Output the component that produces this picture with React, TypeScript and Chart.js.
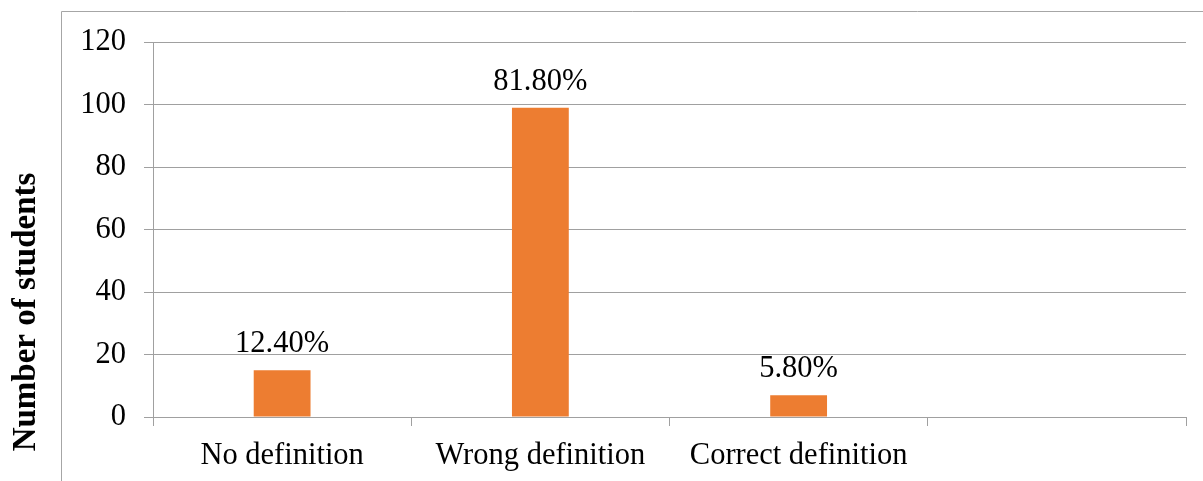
import React, { useEffect, useRef } from "react";
import { Chart, registerables } from "chart.js";

Chart.register(...registerables);

// Response categories (the last slot is an empty category, as in the worksheet)
const categories: string[] = ["No definition", "Wrong definition", "Correct definition", ""];
// Number of students giving each kind of answer
const studentCounts: (number | null)[] = [15, 99, 7, null];
// Share of all students, in percent, printed above each bar
const sharePercent: (number | null)[] = [12.4, 81.8, 5.8, null];
// Value axis ticks
const yMin = 0;
const yMax = 120;
const yStep = 20;
const yAxisTitle = "Number of students";

const SERIF = "'Liberation Serif', 'Times New Roman', serif";
const GRID = "#a0a0a0";
const BAR = "#ed7d31";

// Outer frame of the chart object (left and top edges only are visible)
const framePlugin = {
  id: "outerFrame",
  beforeDraw(chart: Chart) {
    const { ctx, width, height } = chart;
    ctx.save();
    ctx.strokeStyle = "#a6a6a6";
    ctx.lineWidth = 1;
    ctx.beginPath();
    ctx.moveTo(61.5, height);
    ctx.lineTo(61.5, 11.5);
    ctx.lineTo(width, 11.5);
    ctx.stroke();
    ctx.restore();
  },
};

// Rotated value-axis title, sitting in the left margin outside the frame
const axisTitlePlugin = {
  id: "axisTitle",
  afterDraw(chart: Chart) {
    const { ctx } = chart;
    ctx.save();
    ctx.translate(35, 312);
    ctx.rotate(-Math.PI / 2);
    ctx.font = `bold 33px ${SERIF}`;
    ctx.fillStyle = "#000";
    ctx.textAlign = "center";
    ctx.textBaseline = "alphabetic";
    ctx.fillText(yAxisTitle, 0, 0);
    ctx.restore();
  },
};

// Percent labels above the bars
const shareLabelPlugin = {
  id: "shareLabels",
  afterDatasetsDraw(chart: Chart) {
    const { ctx } = chart;
    const meta = chart.getDatasetMeta(0);
    ctx.save();
    ctx.font = `30.5px ${SERIF}`;
    ctx.fillStyle = "#000";
    ctx.textAlign = "center";
    ctx.textBaseline = "alphabetic";
    meta.data.forEach((el: any, i: number) => {
      const p = sharePercent[i];
      if (p === null || studentCounts[i] === null) return;
      ctx.fillText(`${p.toFixed(2)}%`, el.x, el.y - 18);
    });
    ctx.restore();
  },
};

export default function App() {
  const canvasRef = useRef<HTMLCanvasElement | null>(null);

  useEffect(() => {
    const canvas = canvasRef.current;
    if (!canvas) return;
    const chart = new Chart(canvas, {
      type: "bar",
      data: {
        labels: categories,
        datasets: [
          {
            label: yAxisTitle,
            data: studentCounts,
            backgroundColor: BAR,
            borderWidth: 0,
            categoryPercentage: 1,
            barPercentage: 0.22,
          },
        ],
      },
      options: {
        responsive: false,
        animation: false,
        layout: { padding: { top: 42, right: 17, bottom: 0, left: 0 } },
        plugins: {
          legend: { display: false },
          tooltip: { enabled: false },
          title: { display: false },
        },
        scales: {
          x: {
            offset: true,
            grid: {
              offset: true,
              drawOnChartArea: false,
              drawTicks: true,
              tickLength: 9,
              color: GRID,
              lineWidth: 1,
            },
            border: { display: true, color: GRID, width: 1 },
            ticks: {
              color: "#000",
              font: { family: SERIF, size: 30.5 },
              padding: 12,
              maxRotation: 0,
              autoSkip: false,
            },
            afterFit(scale: any) {
              scale.height = 64;
            },
          },
          y: {
            min: yMin,
            max: yMax,
            grid: {
              color: GRID,
              lineWidth: 1,
              drawTicks: true,
              tickLength: 9,
            },
            border: { display: true, color: GRID, width: 1 },
            ticks: {
              stepSize: yStep,
              color: "#000",
              font: { family: SERIF, size: 30.5 },
              padding: 18,
            },
            title: { display: false },
            afterFit(scale: any) {
              scale.width = 153;
            },
          },
        },
      },
      plugins: [framePlugin, shareLabelPlugin, axisTitlePlugin],
    });
    return () => chart.destroy();
  }, []);

  return (
    <div style={{ position: "fixed", left: 0, top: 0, width: 1203, height: 481, background: "#fff" }}>
      <canvas ref={canvasRef} width={1203} height={481} style={{ display: "block" }} />
    </div>
  );
}
